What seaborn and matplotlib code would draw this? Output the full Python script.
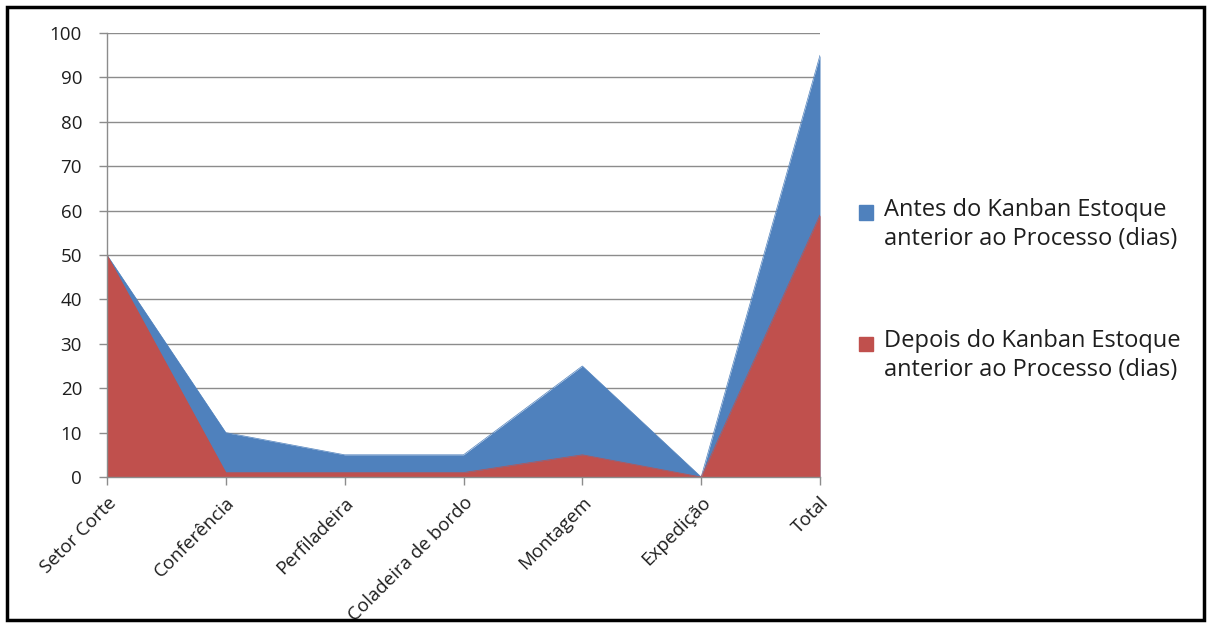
import matplotlib
matplotlib.use("Agg")
import matplotlib.pyplot as plt
import matplotlib.patches as mpatches
from matplotlib.legend_handler import HandlerPatch
import seaborn as sns
import pandas as pd

categorias = ["Setor Corte", "Conferência", "Perfiladeira", "Coladeira de bordo",
              "Montagem", "Expedição", "Total"]
antes = [50, 10, 5, 5, 25, 0, 95]
depois = [50, 1, 1, 1, 5, 0, 59]

rotulo_antes = "Antes do Kanban Estoque\nanterior ao Processo (dias)"
rotulo_depois = "Depois do Kanban Estoque\nanterior ao Processo (dias)"

azul = "#4F81BD"
vermelho = "#C0504D"
texto = "#1e1e1e"

df = pd.DataFrame({"etapa": categorias, "pos": range(len(categorias)),
                   "antes": antes, "depois": depois})

sns.set_style("white")
plt.rcParams["font.family"] = ["Open Sans", "DejaVu Sans"]

fig = plt.figure(figsize=(12.11, 6.26), dpi=100)
ax = fig.add_axes([107 / 1211, 1 - 477 / 626, (820 - 107) / 1211, (477 - 33) / 626])

# overlapping areas: "antes" behind, "depois" in front
ax.fill_between(df["pos"], 0, df["antes"], color=azul, linewidth=0, zorder=2)
ax.fill_between(df["pos"], 0, df["depois"], color=vermelho, linewidth=0, zorder=3)
sns.lineplot(data=df, x="pos", y="antes", color=azul, lw=0.5, ax=ax, zorder=2)
sns.lineplot(data=df, x="pos", y="depois", color=vermelho, lw=0.5, ax=ax, zorder=3)

ax.set_xlim(0, len(categorias) - 1)
ax.set_ylim(0, 100)
ax.set_yticks(range(0, 101, 10))
ax.set_xticks(df["pos"])
ax.set_xticklabels(categorias, rotation=45, ha="right", rotation_mode="anchor",
                   fontsize=13.5, color=texto)
ax.tick_params(axis="y", labelsize=13.5, labelcolor=texto, length=6, width=1,
               direction="out", left=True, pad=12)
ax.tick_params(axis="x", length=6, width=1, direction="out", bottom=True, pad=6)
ax.tick_params(axis="both", color="#8c8c8c")
ax.set_xlabel("")
ax.set_ylabel("")

ax.yaxis.grid(True, color="#8c8c8c", lw=1, zorder=1)
ax.set_axisbelow(True)
for lado in ["top", "right"]:
    ax.spines[lado].set_visible(False)
for lado in ["left", "bottom"]:
    ax.spines[lado].set_color("#8c8c8c")
    ax.spines[lado].set_linewidth(1)
    ax.spines[lado].set_zorder(4)


def quadrado_no_topo(legend, orig_handle, xdescent, ydescent, width, height, fontsize):
    lado = 0.6 * fontsize
    return mpatches.Rectangle((-xdescent, -ydescent + height - lado), lado, lado)


handles = [mpatches.Patch(color=azul), mpatches.Patch(color=vermelho)]
leg = fig.legend(handles, [rotulo_antes, rotulo_depois], loc="center left",
                 bbox_to_anchor=(838 / 1211, 1 - 290 / 626), frameon=False,
                 fontsize=17, labelspacing=3.3, handlelength=0.7, handleheight=2.3,
                 handletextpad=0.35, labelcolor=texto,
                 handler_map={mpatches.Patch: HandlerPatch(patch_func=quadrado_no_topo)})
for t in leg.get_texts():
    t.set_linespacing(1.3)

fig.patches.append(mpatches.Rectangle((7 / 1211, 6 / 626), 1197 / 1211, 613 / 626,
                                      transform=fig.transFigure, fill=False,
                                      edgecolor="black", linewidth=2.5))

fig.savefig("out.png", dpi=100)
